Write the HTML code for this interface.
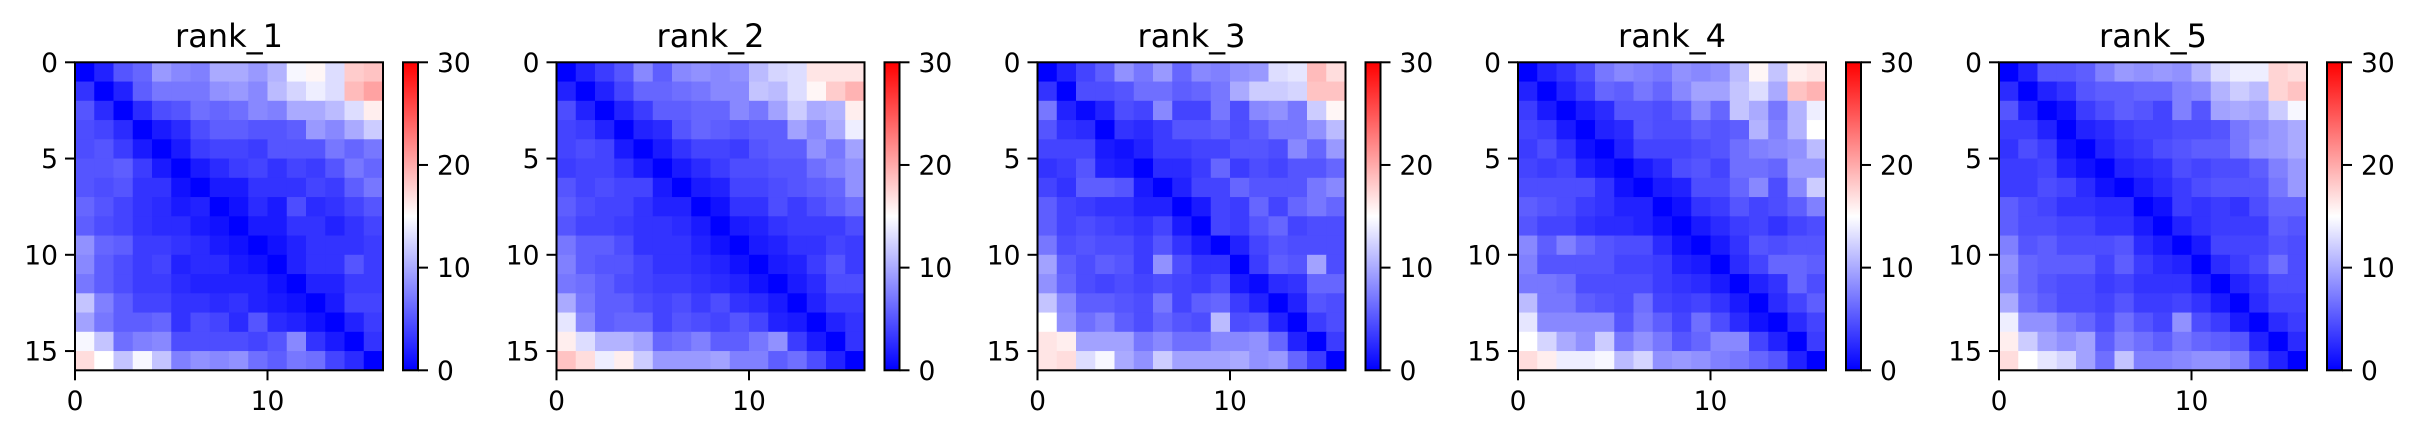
<!DOCTYPE html>
<html><head><meta charset="utf-8"><style>
html,body{margin:0;padding:0;background:#fff;}
svg{display:block;font-family:"DejaVu Sans","Liberation Sans",sans-serif;}
</style></head><body>
<svg id="fig" width="2417" height="438" viewBox="0 0 2417 438" xmlns="http://www.w3.org/2000/svg">
<defs><linearGradient id="bwr" x1="0" y1="1" x2="0" y2="0">
<stop offset="0" stop-color="#0000ff"/><stop offset="0.5" stop-color="#ffffff"/><stop offset="1" stop-color="#ff0000"/>
</linearGradient></defs>
</svg>
<script>
const titles = ["rank_1","rank_2","rank_3","rank_4","rank_5"];
const axisTicks = [0,5,10,15];
const xTicks = [0,10];
const cbarTicks = [0,10,20,30];
const vmin = 0, vmax = 30;
const rank1 = [
[0,2,5,6,9,8,7.5,10,10,9,10.5,14.5,15.5,13,18,18.5],
[3,0,2,5.5,7,7,7,8.5,9,8,11,12.5,14,13,19,20.5],
[5,2.5,0,2.5,4.5,5,6.5,6,6.5,8,7.5,10,10,11,13,16],
[4.5,4,2.5,0,1.5,2.5,4.5,5.5,5.5,5,5,5.5,9,8,10,12],
[4.5,5,3.5,1.5,0,1.5,3.5,4,4,3.5,5,5,5,7,6,7],
[5,5,5.5,3.5,1.5,0,1.5,2.5,3.5,4,3,4,3.5,5,7,6],
[5,4.5,5,3,3,1,0,1.5,1.5,3,3,3,4,3.5,5.5,7],
[6,5,4,3,2.5,1.5,2,0,1,2.5,1.5,4.5,2.5,3,4,5],
[5.5,4.5,4,3,2.5,2.5,1.5,1,0,1.5,1.5,3,3,2,3,4],
[8.5,6,5.5,3.5,3.5,3,2.5,1.5,1,0,1,2,3,3,3,3.5],
[8,5.5,4.5,3.5,4,2,2.5,2.5,1.5,1,0,2,3,3,5,3.5],
[7,5.5,4.5,3.5,3.5,2.5,2,2,2,2,1,0,2,2,3.5,3.5],
[11.5,7.5,5.5,4,4,3,3,2.5,3,2,1.5,1,0,1.5,4,4],
[9.5,7,5.5,5.5,6,3,4.5,4,2.5,5,2.5,2,1,0,2,3.5],
[14.5,11.5,6.5,7.5,8,4.5,4.5,4.5,4.5,4,5,8,3,1.5,0,3],
[17,15,11.5,14.5,11.5,7.5,8.5,8,8.5,6.5,5.5,7,6.5,4,2.5,0]];
const rank2 = [
[0,2,3.5,5,8,5.5,8,8.5,8,8.5,11,12.5,13,16.5,16.5,16.5],
[2,0,2,4,6,6,6.5,7,8,8,11.5,11,13,15.5,18,19.5],
[4.5,2,0,2,3.5,5.5,5.5,6,6,8,7,9.5,12,10,10.5,16],
[4,3.5,2,0,2,2.5,5,6,5.5,5,5.5,5.5,9.5,8,10,14],
[4,4.5,4,1.5,0,1.5,3,4,4,3.5,5,5.5,5.5,8.5,7,9.5],
[3.5,4,4,3,1.5,0,1.5,2.5,3.5,4.5,4.5,5,5,6.5,7.5,8.5],
[5,4,4.5,4,4,1.5,0,1.5,2,4,4,4.5,5,5.5,6,8.5],
[5.5,4.5,4,4,3,2,2,0,1,3,3,4.5,3.5,4.5,5.5,6.5],
[5,4,4,3.5,3,3,2.5,1.5,0,1.5,2,3,3.5,3.5,3.5,4.5],
[7,5.5,5.5,4.5,3,3,3,2,1,0,1.5,2,3,3,4,3.5],
[7.5,5.5,5,5,4,3,3,2.5,2,1,0,1.5,2,3.5,5,3.5],
[7,6.5,5.5,4.5,4,3.5,3.5,3,2.5,2,1,0,1.5,2.5,4.5,4.5],
[10,7,5.5,5.5,4.5,4,4.5,3.5,4.5,3,2.5,1.5,0,2,3.5,3.5],
[13.5,8,5.5,6,6,4,5,4.5,4,5,4,2,1.5,0,2,3],
[16,13,10.5,10.5,9.5,6,6.5,7.5,5.5,5.5,7,8.5,3.5,1.5,0,3],
[18.5,17,14,16,12,9,9,9,9.5,7.5,7.5,5.5,6.5,4.5,2,0]];
const rank3 = [
[0,2,4,5.5,8.5,7,9,6,8,7.5,8.5,9,13,13.5,19,17],
[3,0,4.5,4.5,5,6.5,6.5,5.5,6,7,10,12,12,12.5,18.5,18.5],
[7,2,0.5,2,4.5,4,8,4,4,7,4.5,8,8.5,7,12,15.5],
[5,3,2.5,0,3,2.5,3.5,5,5,5.5,4.5,5.5,7,7,8.5,11],
[4,4,4,1.5,1,2,3.5,3.5,4,4,5,5,4.5,8,6,9],
[3,3.5,5,2,1.5,0,2.5,2.5,3.5,6,3.5,4.5,4,5,5,6],
[4,3,5.5,5.5,5,1.5,0,2,4,4,6,5,5,5,7,8],
[5.5,4,3.5,3,3,2,2,0,1.5,4,3.5,6,4,6,7,6],
[5.5,4,4.5,4,3.5,3,4,1.5,0,4,3.5,5,6,4,4.5,4.5],
[7,4.5,5,4.5,4.5,3.5,5,3,1.5,0,2,4,5,4.5,4.5,4.5],
[9.5,5.5,4.5,5.5,5,3.5,8.5,4.5,3,3,0,3.5,5.5,5,9.5,4.5],
[8.5,6,4.5,4,4.5,4,4.5,4,3.5,4.5,1.5,0.5,2.5,3,6,6],
[11.5,8,5.5,5.5,5,4.5,7,4,5.5,6,3.5,2,0,2,5,4.5],
[15,8.5,6.5,7.5,5.5,4.5,6,5,4.5,11,4.5,5,2,0,3.5,4.5],
[16.5,16,9.5,9.5,9.5,7,8,6.5,6.5,8,8,8.5,6,2,0,3.5],
[16.5,17,13,14.5,10,8.5,12,9.5,9.5,9.5,10,8.5,9,6,3.5,0]];
const rank4 = [
[0,2,3,4.5,7,8,7.5,7,8.5,8,8.5,11,15.5,11.5,16,16.5],
[2,0,2,3.5,6,5.5,7,6,8,9.5,9.5,11.5,13,10,18.5,19.5],
[3.5,1.5,0,1.5,2.5,5,5,4.5,5.5,8,6,11.5,10,7,10.5,14],
[4,3.5,1.5,0,2,2.5,5,4.5,4.5,5.5,5,5.5,10.5,7.5,10.5,15],
[3.5,4.5,3,1,0,2,4,4,4,4.5,5,6.5,7.5,8,8.5,11],
[4,3.5,4,2,1,0,1.5,2.5,4.5,5,4,6.5,6.5,6,9,9],
[4.5,4.5,4.5,4.5,3,1,0,1.5,2,4.5,4.5,6,8,4.5,8,12],
[5.5,5,4.5,3.5,3,2,2,0,1,3,3.5,5,4,4.5,5.5,7.5],
[5,4,4,3,2.5,2.5,2,1,0,1.5,2.5,3.5,4,3,4,4.5],
[8,5.5,7.5,6,5,4.5,4.5,2.5,1,0,1.5,3,5,4.5,5,5],
[7.5,5,5,5,5,4,4,3.5,2,1.5,0,2.5,4,6,6,5.5],
[7,7,6.5,4.5,4.5,4.5,4.5,3.5,3,2.5,1.5,0,2,3,6,4.5],
[11,7,7,5.5,5,4.5,6.5,4,3.5,4,3,1.5,0,2.5,4,5.5],
[13.5,8,8,8,8,5,7,5.5,4,6.5,4.5,2.5,1,0,2.5,4],
[15,12.5,10,8.5,12,7,8.5,7,5,6,8,8,4,2,0,3.5],
[17,16,14,14,14.5,11,12.5,8.5,9,8.5,7.5,7,6,5,2,0]];
const rank5 = [
[0,2,5,5,5.5,7.5,9,8.5,9,8.5,10.5,13,14,14,17.5,17],
[2.5,0,2,3,5,5.5,5.5,6,6,7.5,8,10.5,12,11,17.5,18.5],
[5,2,0,1,3.5,4.5,5.5,5,4,7.5,5,9.5,10,9.5,12,14.5],
[3.5,3.5,2,0,2,2.5,3.5,4,4,4.5,4.5,5,7,8,9,10],
[3,4.5,3.5,1,0,2,3,3.5,4.5,5,5.5,5.5,7,8.5,9,10],
[3.5,3.5,4,2,1,0,2,2.5,3,4.5,4,4.5,4.5,5.5,7.5,9],
[3.5,3.5,4.5,4,2.5,1,0,1.5,2.5,3.5,4.5,5,5,5,7,9],
[5.5,4.5,4,3,3,2.5,2.5,0,1,3.5,3,3.5,3,4.5,6,6],
[5.5,4.5,4.5,4,4,3,3,1.5,0,2,3,3.5,3.5,3.5,5.5,5],
[7.5,5,5.5,4.5,4.5,4.5,5,2.5,1.5,0,1.5,4,4,4,5,4.5],
[8.5,6,5.5,5.5,5.5,4,5.5,3.5,2.5,2,0,2.5,3.5,4.5,6.5,4.5],
[8,6,5,4.5,4.5,3.5,4,3,3,3,1.5,0,2,3,4.5,4.5],
[10,6.5,5.5,4.5,4.5,4,5,3.5,3.5,4,3,1.5,0,2.5,4,4],
[14,8.5,8.5,7,6,4.5,6.5,5,4,8.5,4.5,3.5,1.5,0,2.5,3.5],
[16,12,9.5,8.5,9.5,5.5,7.5,6.5,5.5,7,6,5.5,5,2,0,2.5],
[17,15,13.5,12.5,9.5,6.5,11.5,7.5,7.5,8,8.5,8.5,7.5,4.5,2,0]];
const matrices = [rank1, rank2, rank3, rank4, rank5];

const NS = "http://www.w3.org/2000/svg";
const svg = document.getElementById("fig");
const axLefts = [75, 556.5, 1037.5, 1518, 1999];
const axTop = 62.3, axSize = 308;
const nCells = 16;

function color(v){
  let t = (v - vmin) / (vmax - vmin); t = Math.max(0, Math.min(1, t));
  let r,g,b;
  if (t < 0.5){ r = g = Math.round(255 * t * 2); b = 255; }
  else { r = 255; g = b = Math.round(255 * (1 - t) * 2); }
  return `rgb(${r},${g},${b})`;
}
function mk(tag, attrs, parent){
  const e = document.createElementNS(NS, tag);
  for (const k in attrs) e.setAttribute(k, attrs[k]);
  (parent || svg).appendChild(e);
  return e;
}

matrices.forEach((m, p) => {
  const x0 = axLefts[p];
  const sx = v => x0 + v * axSize / nCells;
  const sy = v => axTop + v * axSize / nCells;
  const g = mk("g", {});
  
  
  m.forEach((row, i) => row.forEach((v, j) => {
    const c = mk("rect", {x: sx(j), y: sy(i), width: axSize/nCells + 0.5, height: axSize/nCells + 0.5, fill: color(v)}, g);
    
    
  }));
  const fr = mk("rect", {x: x0, y: axTop, width: axSize, height: axSize, fill: "none", stroke: "#000", "stroke-width": 2}, g);
  
  
  const t = mk("text", {x: x0 + axSize/2, y: 47, "text-anchor": "middle", "font-size": 32}, g);
  t.textContent = titles[p];
  
  
  axisTicks.forEach(v => {
    mk("line", {x1: x0 - 10, x2: x0, y1: sy(v), y2: sy(v), stroke: "#000", "stroke-width": 2}, g);
    const l = mk("text", {x: x0 - 17, y: sy(v) + 9.5, "text-anchor": "end", "font-size": 26.5}, g);
    l.textContent = v;
    
    
  });
  xTicks.forEach(v => {
    mk("line", {x1: sx(v), x2: sx(v), y1: axTop + axSize, y2: axTop + axSize + 10, stroke: "#000", "stroke-width": 2}, g);
    const l = mk("text", {x: sx(v), y: 410, "text-anchor": "middle", "font-size": 26.5}, g);
    l.textContent = v;
    
    
  });
  // colorbar
  const cx = x0 + 328, cw = 15;
  const cy = v => axTop + axSize - (v - vmin) / (vmax - vmin) * axSize;
  const cb = mk("rect", {x: cx, y: axTop, width: cw, height: axSize, fill: "url(#bwr)", stroke: "#000", "stroke-width": 2}, g);
  
  
  cbarTicks.forEach(v => {
    mk("line", {x1: cx + cw, x2: cx + cw + 10, y1: cy(v), y2: cy(v), stroke: "#000", "stroke-width": 2}, g);
    const l = mk("text", {x: cx + cw + 19, y: cy(v) + 9.5, "font-size": 26.5}, g);
    l.textContent = v;
    
    
  });
});
</script>
</body></html>
